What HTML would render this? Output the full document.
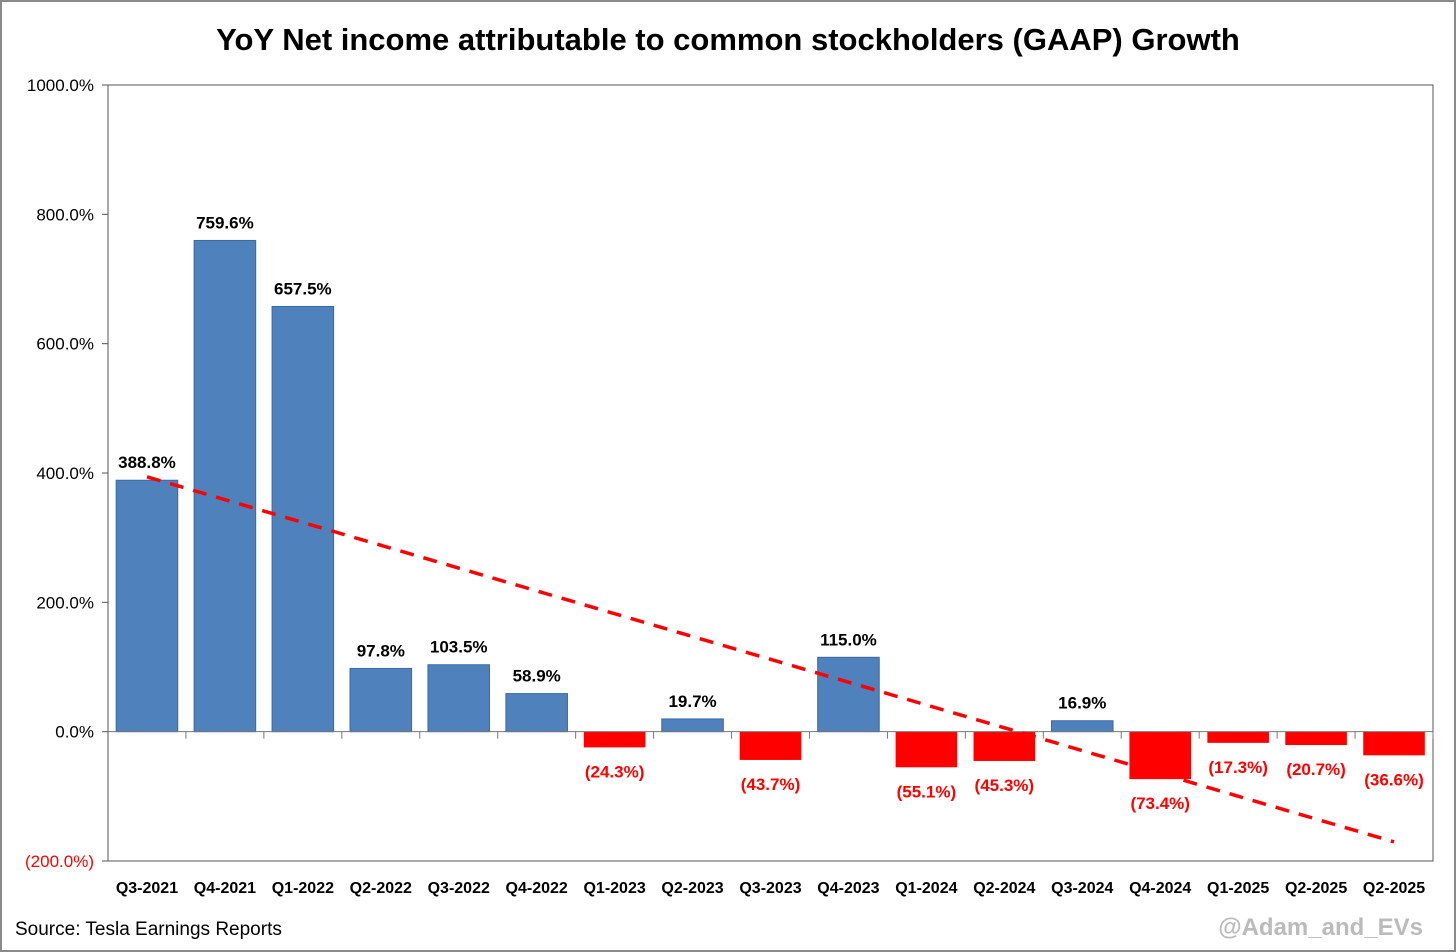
<!DOCTYPE html>
<html><head><meta charset="utf-8"><style>
html,body{margin:0;padding:0;background:#fff}
svg{display:block;font-family:"Liberation Sans",sans-serif}
</style></head><body>
<svg id="chart" width="1456" height="952">
<rect x="1" y="1" width="1454" height="950" fill="#fff" stroke="#8a8a8a" stroke-width="2"/>
<text x="728" y="50" text-anchor="middle" font-size="31" font-weight="bold" fill="#000">YoY Net income attributable to common stockholders (GAAP) Growth</text>
<rect x="108" y="85" width="1325" height="776" fill="#fff" stroke="#555" stroke-width="1"/>
<g id="g"></g>
<text x="15" y="935" font-size="19" fill="#000">Source: Tesla Earnings Reports</text>
<text x="1423" y="935" text-anchor="end" font-size="24" font-weight="bold" fill="#bbb">@Adam_and_EVs</text>
</svg>
<script>
const categories=["Q3-2021","Q4-2021","Q1-2022","Q2-2022","Q3-2022","Q4-2022","Q1-2023","Q2-2023","Q3-2023","Q4-2023","Q1-2024","Q2-2024","Q3-2024","Q4-2024","Q1-2025","Q2-2025","Q2-2025"];
const values=[388.8,759.6,657.5,97.8,103.5,58.9,-24.3,19.7,-43.7,115.0,-55.1,-45.3,16.9,-73.4,-17.3,-20.7,-36.6];
const yTicks=[-200,0,200,400,600,800,1000];
const NS="http://www.w3.org/2000/svg";
const g=document.getElementById('g');
const L=108,R=1433,T=85,B=861,ymin=-200,ymax=1000;
const bw=(R-L)/categories.length;
function y(v){return B-(v-ymin)/(ymax-ymin)*(B-T);}
function xc(i){return L+bw*(i+0.5);}
function fmt(v){const s=Math.abs(v).toFixed(1)+"%";return v<0?"("+s+")":s;}
function mk(t,a){const e=document.createElementNS(NS,t);for(const k in a)e.setAttribute(k,a[k]);g.appendChild(e);return e;}
yTicks.forEach(t=>{
  const tk=mk('line',{x1:L-6,x2:L,y1:y(t),y2:y(t),stroke:'#555'});
  
  
  const lb=mk('text',{x:L-14,y:y(t)+6,'text-anchor':'end','font-size':17,fill:t<0?'#f00':'#000'});
  lb.textContent=t<0?"("+Math.abs(t).toFixed(1)+"%)":t.toFixed(1)+"%";
  
  
});
const z=y(0);
values.forEach((v,i)=>{
  const w=bw*0.79,x=xc(i)-w/2;
  const r=mk('rect',{x:x,y:Math.min(y(v),z),width:w,height:Math.abs(y(v)-z),fill:v<0?'#ff0000':'#4f81bd',stroke:v<0?'none':'#3a6aa5','stroke-width':1});
  
  
  const lb=mk('text',{x:xc(i),y:v<0?y(v)+30:y(v)-12,'text-anchor':'middle','font-size':17,'font-weight':'bold',fill:v<0?'#f00':'#000'});
  lb.textContent=fmt(v);
  
  
  const tk=mk('line',{x1:L+bw*(i+1),x2:L+bw*(i+1),y1:z,y2:z+7,stroke:'#777'});
  
  
  const cl=mk('text',{x:xc(i),y:893,'text-anchor':'middle','font-size':16,'font-weight':'bold',fill:'#000'});
  cl.textContent=categories[i];
  
  
});
const ax=mk('line',{x1:L,x2:R,y1:z,y2:z,stroke:'#777'});


const n=values.length;let sx=0,sy=0,sxy=0,sxx=0;
values.forEach((v,i)=>{sx+=i;sy+=v;sxy+=i*v;sxx+=i*i;});
const m=(n*sxy-sx*sy)/(n*sxx-sx*sx),b=(sy-m*sx)/n;
const tl=mk('line',{x1:xc(0),y1:y(b),x2:xc(n-1),y2:y(b+m*(n-1)),stroke:'#ff0000','stroke-width':3.5,'stroke-dasharray':'14 10'});


</script>
</body></html>
